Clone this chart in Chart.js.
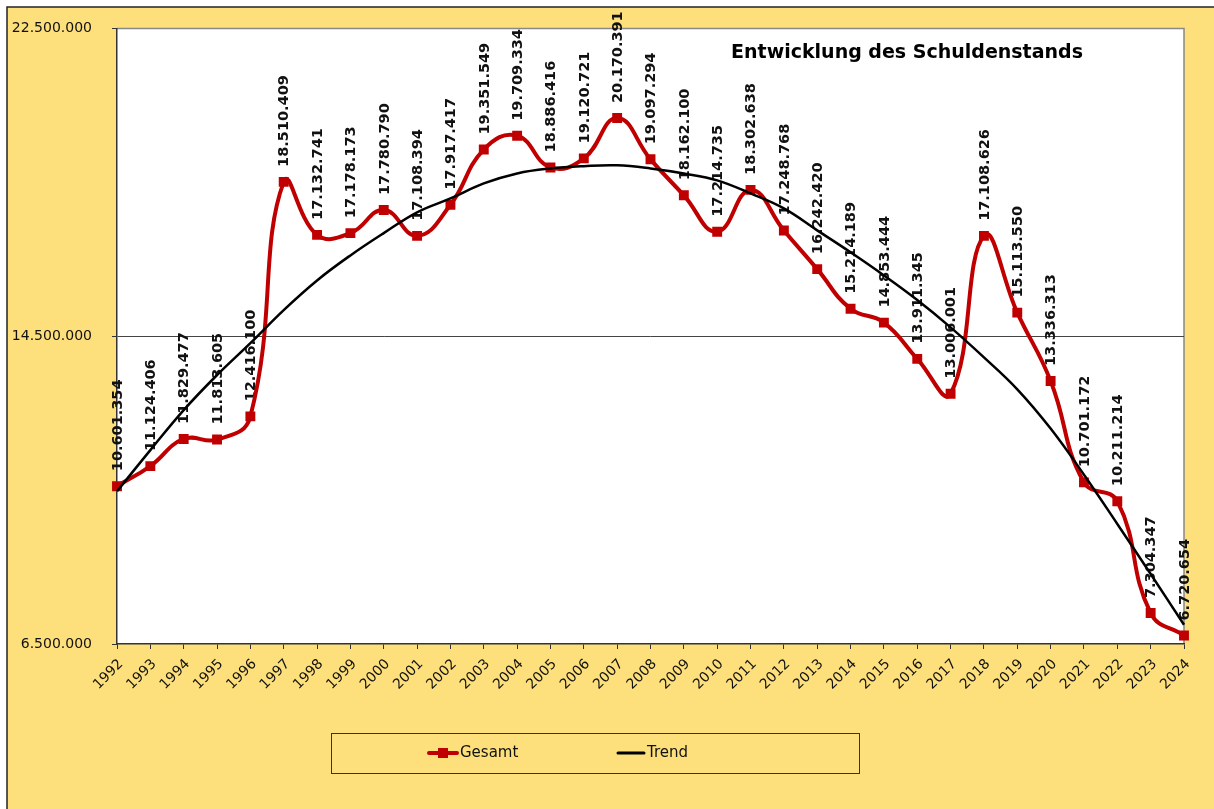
<!DOCTYPE html>
<html>
<head>
<meta charset="utf-8">
<script src="https://cdn.jsdelivr.net/npm/chart.js@4.4.1/dist/chart.umd.min.js"></script>
<style>
html, body { margin: 0; padding: 0; background: #fff; }
canvas { display: block; }
</style>
</head>
<body>
<canvas id="myChart" width="1214" height="809"></canvas>
<script>
// Jahre
const years = ['1992','1993','1994','1995','1996','1997','1998','1999','2000','2001','2002',
  '2003','2004','2005','2006','2007','2008','2009','2010','2011','2012','2013','2014',
  '2015','2016','2017','2018','2019','2020','2021','2022','2023','2024'];

// Schuldenstand gesamt
const gesamt = [10601354, 11124406, 11829477, 11813605, 12416100, 18510409, 17132741,
  17178173, 17780790, 17108394, 17917417, 19351549, 19709334, 18886416, 19120721,
  20170391, 19097294, 18162100, 17214735, 18302638, 17248768, 16242420, 15214189,
  14853444, 13911345, 13006001, 17108626, 15113550, 13336313, 10701172, 10211214,
  7304347, 6720654];

// Trendlinie
const trend = [10470000, 11540000, 12580000, 13490000, 14320000, 15180000, 15950000,
  16600000, 17180000, 17720000, 18080000, 18470000, 18730000, 18860000, 18920000,
  18940000, 18860000, 18730000, 18550000, 18210000, 17820000, 17250000, 16680000,
  16080000, 15440000, 14730000, 13950000, 13120000, 12100000, 10900000, 9620000,
  8320000, 7000000];

const yTicks = [6500000, 14500000, 22500000];
const title = 'Entwicklung des Schuldenstands';

const yellow = '#FDE07B';
const red = '#C00000';

function fmt(v) {
  return String(v).replace(/\B(?=(\d{3})+(?!\d))/g, '.');
}

// Hintergrund, Rahmen, Titel, Werte, Legende
const framePlugin = {
  id: 'frame',
  beforeDraw(chart) {
    const ctx = chart.ctx, a = chart.chartArea;
    ctx.save();
    ctx.fillStyle = '#fff';
    ctx.fillRect(0, 0, chart.width, chart.height);
    ctx.fillStyle = yellow;
    ctx.fillRect(7, 7, chart.width, chart.height);
    ctx.strokeStyle = '#222';
    ctx.lineWidth = 1.5;
    ctx.beginPath();
    ctx.moveTo(7, chart.height); ctx.lineTo(7, 7); ctx.lineTo(chart.width, 7);
    ctx.stroke();
    ctx.fillStyle = '#fff';
    ctx.fillRect(a.left, a.top, a.right - a.left, a.bottom - a.top);
    ctx.strokeStyle = '#888';
    ctx.lineWidth = 1.5;
    ctx.beginPath();
    ctx.moveTo(a.left, a.top); ctx.lineTo(a.right, a.top); ctx.lineTo(a.right, a.bottom);
    ctx.stroke();
    ctx.restore();
  },
  beforeDatasetsDraw(chart) {
    const ctx = chart.ctx;
    const meta = chart.getDatasetMeta(1);
    ctx.save();
    ctx.fillStyle = '#111';
    ctx.font = 'bold 14.5px "DejaVu Sans"';
    ctx.textAlign = 'left';
    ctx.textBaseline = 'middle';
    meta.data.forEach((pt, i) => {
      ctx.save();
      ctx.translate(pt.x + 1, pt.y - 15);
      ctx.rotate(-Math.PI / 2);
      ctx.fillText(fmt(gesamt[i]), 0, 0);
      ctx.restore();
    });
    ctx.fillStyle = '#000';
    ctx.font = 'bold 19px "DejaVu Sans"';
    ctx.textAlign = 'center';
    ctx.fillText(title, 907, 53);
    ctx.restore();
  },
  afterDraw(chart) {
    const ctx = chart.ctx;
    ctx.save();
    ctx.strokeStyle = '#333';
    ctx.lineWidth = 1;
    ctx.strokeRect(331.5, 733.5, 528, 40);
    const ly = 753;
    ctx.lineCap = 'round';
    ctx.strokeStyle = red;
    ctx.lineWidth = 4;
    ctx.beginPath(); ctx.moveTo(429, ly); ctx.lineTo(457, ly); ctx.stroke();
    ctx.fillStyle = red;
    ctx.fillRect(438, ly - 5, 10, 10);
    ctx.strokeStyle = '#000';
    ctx.lineWidth = 3;
    ctx.beginPath(); ctx.moveTo(618, ly); ctx.lineTo(644, ly); ctx.stroke();
    ctx.fillStyle = '#111';
    ctx.font = '15px "DejaVu Sans"';
    ctx.textAlign = 'left';
    ctx.textBaseline = 'middle';
    ctx.fillText('Gesamt', 460, ly);
    ctx.fillText('Trend', 647, ly);
    ctx.restore();
  }
};

const ctx = document.getElementById('myChart');

new Chart(ctx, {
  type: 'line',
  data: {
    labels: years,
    datasets: [
      {
        label: 'Trend',
        data: trend,
        borderColor: '#000',
        borderWidth: 2.5,
        pointRadius: 0,
        tension: 0.4,
        fill: false
      },
      {
        label: 'Gesamt',
        data: gesamt,
        borderColor: red,
        backgroundColor: red,
        borderWidth: 4,
        pointStyle: 'rect',
        pointRadius: 7,
        pointBorderWidth: 0,
        tension: 0.45,
        fill: false
      }
    ]
  },
  options: {
    responsive: false,
    animation: false,
    layout: { padding: { left: 0, top: 28, right: 30, bottom: 0 } },
    plugins: {
      legend: { display: false },
      title: { display: false },
      tooltip: { enabled: false }
    },
    scales: {
      x: {
        offset: false,
        grid: { color: 'transparent', drawOnChartArea: false, tickColor: '#333', tickLength: 5 },
        border: { color: '#333', width: 1.5 },
        ticks: {
          autoSkip: false,
          maxRotation: 45,
          minRotation: 45,
          color: '#111',
          padding: 7,
          labelOffset: 4,
          font: { family: 'DejaVu Sans', size: 14 }
        },
        afterFit(s) { s.height = 809 - 644; }
      },
      y: {
        min: 6500000,
        max: 22500000,
        afterBuildTicks(s) { s.ticks = yTicks.map(v => ({ value: v })); },
        grid: {
          color: c => c.tick && c.tick.value === 14500000 ? '#444' : 'transparent',
          lineWidth: 1,
          tickColor: '#333',
          tickLength: 5
        },
        border: { color: '#333', width: 1.5 },
        ticks: {
          color: '#111',
          padding: 20,
          font: { family: 'DejaVu Sans', size: 14 },
          callback: v => fmt(v)
        },
        afterFit(s) { s.width = 117; }
      }
    }
  },
  plugins: [framePlugin]
});
</script>
</body>
</html>
